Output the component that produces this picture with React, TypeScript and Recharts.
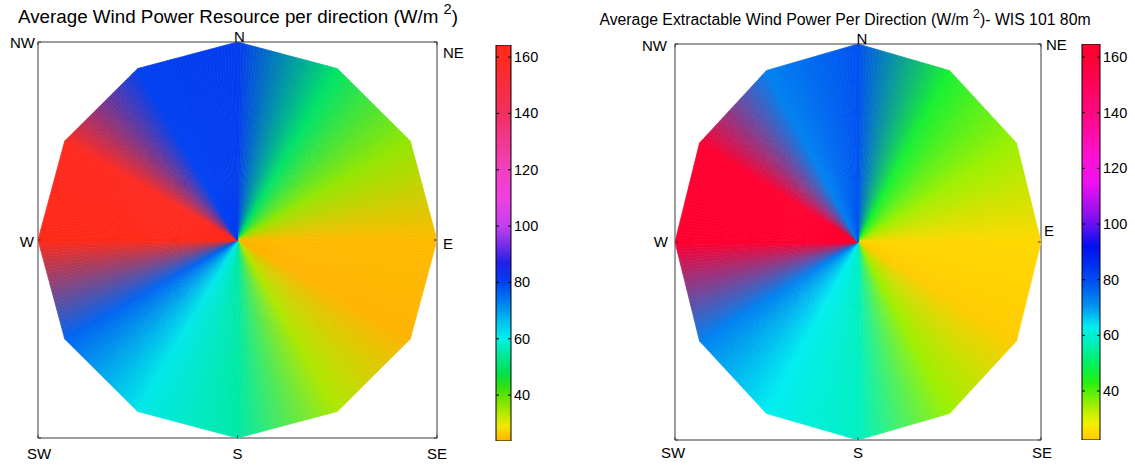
import React from 'react'
import { ScatterChart, Scatter, XAxis, YAxis, BarChart, Bar } from 'recharts'

// compass directions, degrees clockwise from north
const directions = [0, 30, 60, 90, 120, 150, 180, 210, 240, 270, 300, 330]
// average wind power resource per direction (W/m2)
const resourcePower = [81, 50, 36, 24.5, 23.7, 34, 55, 61, 76, 164.3, 160, 80]
// average extractable wind power per direction, WIS 101 80m (W/m2)
const extractablePower = [79, 46, 35, 25, 22.4, 35, 58, 63, 73, 164.7, 160, 73]

const compassTicks = [-1, 0, 1]
const bottomLabels = ['SW', 'S', 'SE']
const topLabels = ['', 'N', '']
const leftLabels = ['', 'W', 'NW']
const rightLabels = ['', 'E', 'NE']
const colorbarTicks = [40, 60, 80, 100, 120, 140, 160]

type Stop = [number, string]

const resourceColormap: Stop[] = [
  [23.7, '#ffb400'], [26, '#fcc800'], [29, '#f2e800'], [33, '#bce800'],
  [38, '#78e400'], [43, '#30e010'], [48, '#00e050'], [54, '#00e898'],
  [60, '#00f0e8'], [66, '#00c0f0'], [72, '#0088f0'], [80, '#0040f0'],
  [87, '#2020e8'], [94, '#8030e8'], [100, '#c040f0'], [110, '#f040e0'],
  [122, '#f040b8'], [140, '#f03060'], [158, '#ff2a24'], [164.3, '#ff2a18'],
]

const extractableColormap: Stop[] = [
  [22.4, '#ffcc00'], [25, '#ffd800'], [28, '#f4f000'], [32, '#c8f000'],
  [37, '#80f000'], [43, '#28f010'], [50, '#00f060'], [57, '#00f0b8'],
  [63, '#00eef0'], [70, '#0098f0'], [78, '#0058f0'], [85, '#0030f0'],
  [92, '#0010f0'], [98, '#5010f0'], [105, '#a010f0'], [115, '#f010f0'],
  [125, '#ff10d0'], [140, '#ff0880'], [160, '#ff0030'], [164.7, '#ff0030'],
]

const FONT = "Arial, 'Liberation Sans', Helvetica, sans-serif"
const FRAME = '#3a3a3a'
const STEPS = 30

const hexToRgb = (h: string) => [1, 3, 5].map(i => parseInt(h.slice(i, i + 2), 16))
const mix = (a: number[], b: number[], t: number) => a.map((v, i) => v + (b[i] - v) * t)
const rgb = (c: number[]) => `rgb(${c.map(v => Math.round(v)).join(',')})`

function colorAt(cmap: Stop[], v: number) {
  if (v <= cmap[0][0]) return hexToRgb(cmap[0][1])
  for (let i = 0; i < cmap.length - 1; i++) {
    const [v0, c0] = cmap[i]
    const [v1, c1] = cmap[i + 1]
    if (v <= v1) return mix(hexToRgb(c0), hexToRgb(c1), (v - v0) / (v1 - v0))
  }
  return hexToRgb(cmap[cmap.length - 1][1])
}

// fills the polygon traced by the scatter points with wedges whose colour
// is interpolated between neighbouring directions
const wedgeRenderer = (colors: number[][]) => (props: any) => {
  const pts: { x: number; y: number }[] = props.points || []
  const n = pts.length
  if (n < 3) return <g />
  const cx = pts.reduce((s, p) => s + p.x, 0) / n
  const cy = pts.reduce((s, p) => s + p.y, 0) / n
  const out: React.ReactNode[] = []
  for (let i = 0; i < n; i++) {
    const a = pts[i]
    const b = pts[(i + 1) % n]
    for (let j = 0; j < STEPS; j++) {
      const t0 = j / STEPS
      const t1 = (j + 1) / STEPS
      const col = rgb(mix(colors[i], colors[(i + 1) % n], (j + 0.5) / STEPS))
      const p0 = [a.x + (b.x - a.x) * t0, a.y + (b.y - a.y) * t0]
      const p1 = [a.x + (b.x - a.x) * t1, a.y + (b.y - a.y) * t1]
      out.push(
        <polygon
          key={`${i}-${j}`}
          points={`${cx},${cy} ${p0[0]},${p0[1]} ${p1[0]},${p1[1]}`}
          fill={col}
          stroke={col}
          strokeWidth={0.7}
          strokeLinejoin="round"
        />
      )
    }
  }
  return <g>{out}</g>
}

const CompassTick = ({ x, y, payload, labels, side, offsets }: any) => {
  const label = labels[compassTicks.indexOf(payload.value)]
  const [dx, dy] = offsets[label] || [0, 0]
  const mark = { bottom: [0, -3], top: [0, 3], left: [3, 0], right: [-3, 0] }[side as string] as number[]
  const anchor = side === 'left' ? 'end' : side === 'right' ? 'start' : 'middle'
  return (
    <g>
      <line x1={x} y1={y} x2={x + mark[0]} y2={y + mark[1]} stroke={FRAME} />
      {label && (
        <text x={x + dx} y={y + dy} textAnchor={anchor} dominantBaseline="central"
          fontSize={15} fontFamily={FONT} fill="#000">{label}</text>
      )}
    </g>
  )
}

const ColorbarTick = ({ x, y, payload, barWidth }: any) => (
  <g>
    <line x1={x - barWidth} x2={x - barWidth + 3} y1={y} y2={y} stroke="#000" />
    <line x1={x - 3} x2={x} y1={y} y2={y} stroke="#000" />
    <text x={x + 3} y={y} dominantBaseline="central" fontSize={14.5} fontFamily={FONT} fill="#000">
      {payload.value}
    </text>
  </g>
)

function RosePanel({ values, cmap, left, width, margin, offsets }: any) {
  const colors = values.map((v: number) => colorAt(cmap, v))
  const data = directions.map((d, i) => ({
    x: Math.sin((d * Math.PI) / 180),
    y: Math.cos((d * Math.PI) / 180),
    value: values[i],
  }))
  const axis = {
    type: 'number' as const,
    domain: [-1, 1],
    ticks: compassTicks,
    interval: 0 as const,
    tickSize: 0,
    tickMargin: 0,
    allowDataOverflow: true,
    axisLine: { stroke: FRAME },
  }
  return (
    <div style={{ position: 'absolute', left, top: 0 }}>
      <ScatterChart width={width} height={467} margin={margin}>
        <XAxis {...axis} xAxisId="b" dataKey="x" height={1}
          tick={<CompassTick side="bottom" labels={bottomLabels} offsets={offsets} />} />
        <XAxis {...axis} xAxisId="t" dataKey="x" orientation="top" height={1}
          tick={<CompassTick side="top" labels={topLabels} offsets={offsets} />} />
        <YAxis {...axis} yAxisId="l" dataKey="y" width={1}
          tick={<CompassTick side="left" labels={leftLabels} offsets={offsets} />} />
        <YAxis {...axis} yAxisId="r" dataKey="y" orientation="right" width={1}
          tick={<CompassTick side="right" labels={rightLabels} offsets={offsets} />} />
        <Scatter xAxisId="b" yAxisId="l" data={data} shape={() => <g />}
          line={wedgeRenderer(colors)} lineType="joint" isAnimationActive={false} />
        <Scatter xAxisId="t" yAxisId="r" data={data} shape={() => <g />} isAnimationActive={false} />
      </ScatterChart>
    </div>
  )
}

function Colorbar({ id, values, cmap, left, width, margin, barWidth }: any) {
  const lo = Math.min(...values)
  const hi = Math.max(...values)
  const stops = cmap.filter(([v]: Stop) => v > lo && v < hi)
  return (
    <div style={{ position: 'absolute', left, top: 0 }}>
      <BarChart width={width} height={467} margin={margin} barCategoryGap={0}
        data={[{ name: 'scale', range: [lo, hi] }]}>
        <defs>
          <linearGradient id={id} x1="0" y1="1" x2="0" y2="0">
            <stop offset={0} stopColor={rgb(colorAt(cmap, lo))} />
            {stops.map(([v, c]: Stop) => (
              <stop key={v} offset={(v - lo) / (hi - lo)} stopColor={c} />
            ))}
            <stop offset={1} stopColor={rgb(colorAt(cmap, hi))} />
          </linearGradient>
        </defs>
        <XAxis dataKey="name" hide />
        <YAxis type="number" orientation="right" domain={[lo, hi]} allowDataOverflow
          ticks={colorbarTicks} interval={0} width={1} tickSize={0} tickMargin={0}
          axisLine={false} tick={<ColorbarTick barWidth={barWidth} />} />
        <Bar dataKey="range" fill={`url(#${id})`} stroke="#000" strokeWidth={1}
          isAnimationActive={false} />
      </BarChart>
    </div>
  )
}

const titleStyle: React.CSSProperties = {
  position: 'absolute',
  whiteSpace: 'nowrap',
  transform: 'translateX(-50%)',
  fontFamily: FONT,
  color: '#000',
}
const sup: React.CSSProperties = { fontSize: '0.78em', position: 'relative', top: '-0.6em' }

export default function App() {
  return (
    <div style={{ position: 'absolute', left: 0, top: 0, width: 1135, height: 467, background: '#fff', overflow: 'hidden' }}>
      <div style={{ ...titleStyle, left: 238, top: 8, fontSize: 18.8, lineHeight: '18px' }}>
        Average Wind Power Resource per direction (W/m <span style={sup}>2</span>)
      </div>
      <div style={{ ...titleStyle, left: 845, top: 12, fontSize: 15.8, lineHeight: '16px' }}>
        Average Extractable Wind Power Per Direction (W/m <span style={sup}>2</span>)- WIS 101 80m
      </div>

      <RosePanel
        values={resourcePower}
        cmap={resourceColormap}
        left={0}
        width={480}
        margin={{ top: 41, right: 42, bottom: 28, left: 37 }}
        offsets={{ SW: [1, 15], S: [0, 15], SE: [0, 15], N: [2, -6], NW: [-3, 0], W: [-4, 1], NE: [6, 10], E: [6, 3] }}
      />
      <Colorbar id="cbResource" values={resourcePower} cmap={resourceColormap} left={480} width={80}
        margin={{ top: 45, right: 48, bottom: 26, left: 16 }} barWidth={15} />

      <RosePanel
        values={extractablePower}
        cmap={extractableColormap}
        left={560}
        width={520}
        margin={{ top: 43, right: 38, bottom: 26, left: 114 }}
        offsets={{ SW: [-2, 12], S: [0, 12], SE: [1, 12], N: [4, -6], NW: [-8, 1], W: [-7, -1], NE: [5, 0], E: [3, -12] }}
      />
      <Colorbar id="cbExtractable" values={extractablePower} cmap={extractableColormap} left={1070} width={65}
        margin={{ top: 44, right: 34, bottom: 27, left: 12 }} barWidth={18} />
    </div>
  )
}
